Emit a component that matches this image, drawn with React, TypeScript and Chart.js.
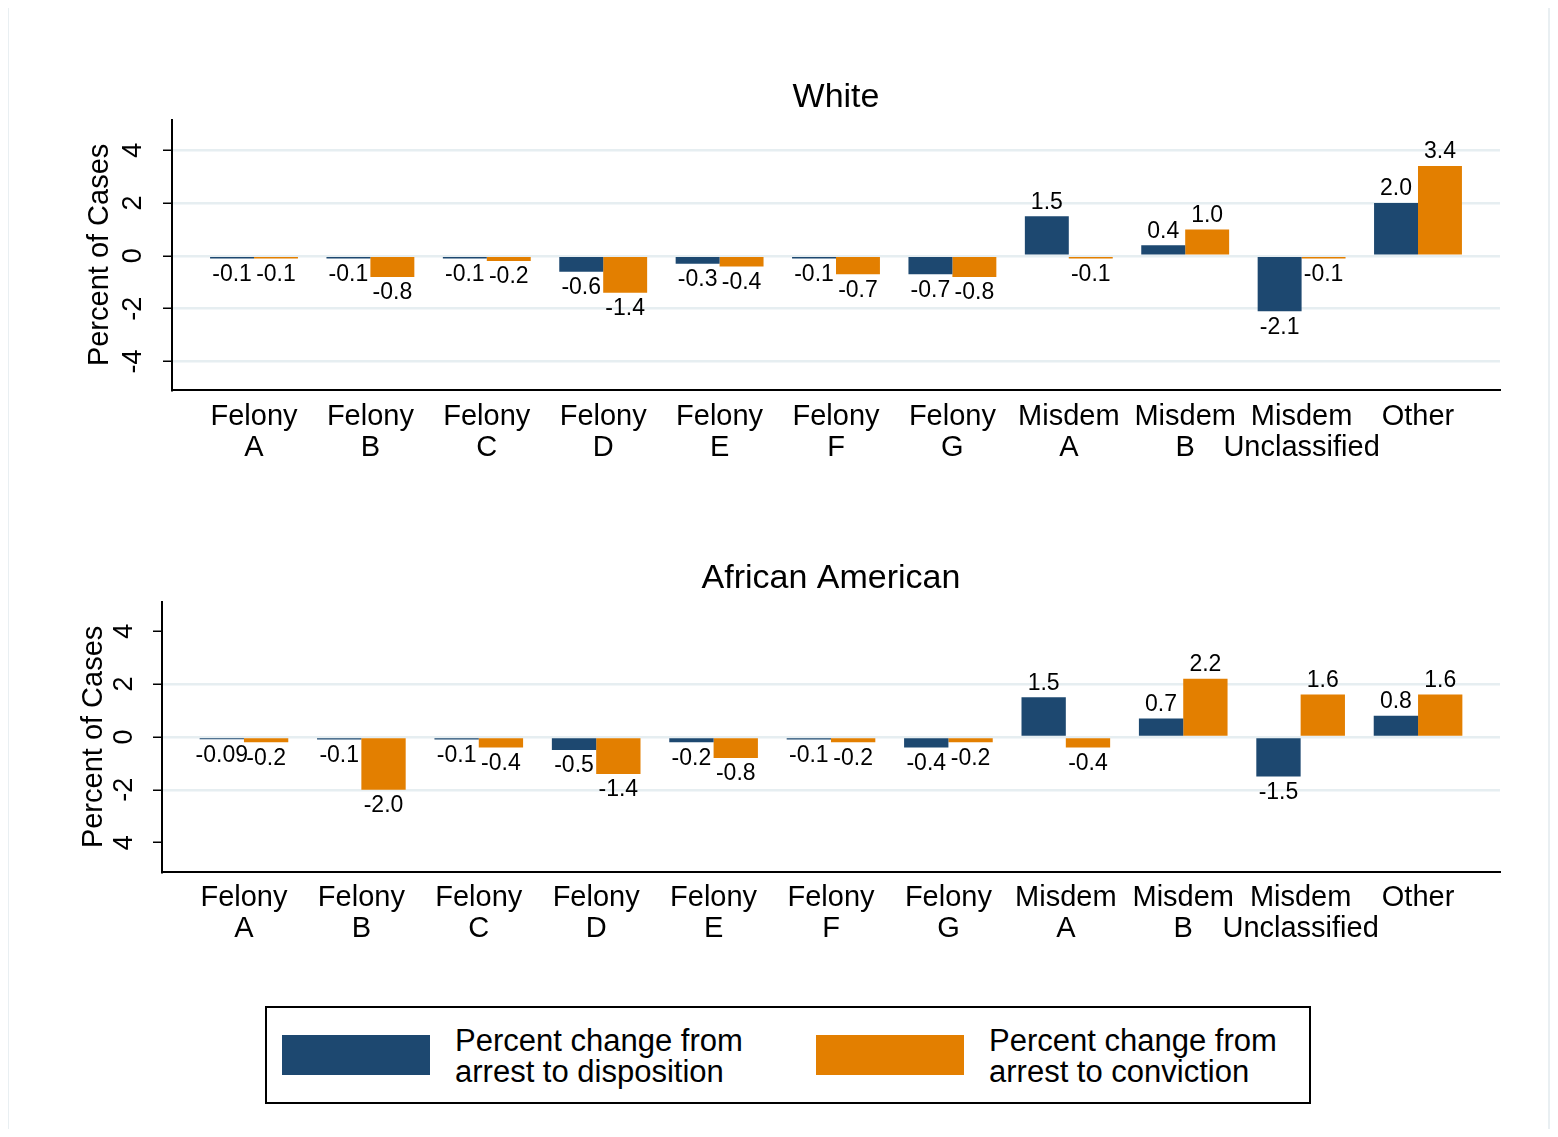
import React, { useEffect, useRef } from 'react';
import { Chart, registerables } from 'chart.js';

Chart.register(...registerables);

const FONT = '"Liberation Sans", Arial, Helvetica, sans-serif';
const BLUE = '#1d4870';
const ORANGE = '#e37f00';
const GRID = '#e6eef1';

const CATEGORIES: string[][] = [
  ['Felony', 'A'], ['Felony', 'B'], ['Felony', 'C'], ['Felony', 'D'], ['Felony', 'E'],
  ['Felony', 'F'], ['Felony', 'G'], ['Misdem', 'A'], ['Misdem', 'B'], ['Misdem', 'Unclassified'], ['Other'],
];

const WHITE_DISPOSITION = [-0.1, -0.1, -0.1, -0.6, -0.3, -0.1, -0.7, 1.5, 0.4, -2.1, 2.0];
const WHITE_CONVICTION = [-0.1, -0.8, -0.2, -1.4, -0.4, -0.7, -0.8, -0.1, 1.0, -0.1, 3.4];

const AA_DISPOSITION = [-0.09, -0.1, -0.1, -0.5, -0.2, -0.1, -0.4, 1.5, 0.7, -1.5, 0.8];
const AA_CONVICTION = [-0.2, -2.0, -0.4, -1.4, -0.8, -0.2, -0.2, -0.4, 2.2, 1.6, 1.6];

const Y_TICKS = [-4, -2, 0, 2, 4];
const WHITE_Y_TICK_LABELS = ['-4', '-2', '0', '2', '4'];
const AA_Y_TICK_LABELS = ['4', '-2', '0', '2', '4'];

const SERIES_LABELS = ['Percent change from arrest to disposition', 'Percent change from arrest to conviction'];

const fmt = (v: number) => (Math.abs(v) < 0.1 ? v.toFixed(2) : v.toFixed(1));

const valueLabels = {
  id: 'valueLabels',
  afterDatasetsDraw(chart: any) {
    const ctx = chart.ctx;
    ctx.save();
    ctx.font = `23px ${FONT}`;
    ctx.fillStyle = '#000';
    ctx.textAlign = 'center';
    ctx.textBaseline = 'middle';
    chart.data.datasets.forEach((ds: any, di: number) => {
      const meta = chart.getDatasetMeta(di);
      meta.data.forEach((bar: any, i: number) => {
        const v = ds.data[i].y;
        const y = v < 0 ? bar.y + 16 : bar.y - 14;
        ctx.fillText(fmt(v), bar.x, y);
      });
    });
    ctx.restore();
  },
};

type PanelProps = {
  title: string;
  disp: number[];
  conv: number[];
  yLabels: string[];
  yMin: number;
  yMax: number;
  xMin: number;
  xMax: number;
  yAxisWidth: number;
  xAxisHeight: number;
  titlePadTop: number;
  titlePadBottom: number;
  yTitlePad: number;
  yTickPad: number;
  xTickPad: number;
  hideOuterGrid: boolean;
  top: number;
};

function Panel(p: PanelProps) {
  const ref = useRef<HTMLCanvasElement>(null);
  useEffect(() => {
    if (!ref.current) return;
    const chart = new Chart(ref.current, {
      type: 'bar',
      data: {
        datasets: [
          {
            label: SERIES_LABELS[0],
            data: p.disp.map((v, i) => ({ x: i, y: v })),
            backgroundColor: BLUE,
            borderWidth: 0,
            barPercentage: 1,
            categoryPercentage: 0.755,
          },
          {
            label: SERIES_LABELS[1],
            data: p.conv.map((v, i) => ({ x: i, y: v })),
            backgroundColor: ORANGE,
            borderWidth: 0,
            barPercentage: 1,
            categoryPercentage: 0.755,
          },
        ],
      } as any,
      options: {
        animation: false,
        responsive: false,
        maintainAspectRatio: false,
        layout: { padding: { left: 0, right: 49, top: 0, bottom: 0 } },
        plugins: {
          legend: { display: false },
          tooltip: { enabled: false },
          title: {
            display: true,
            text: p.title,
            fullSize: false,
            color: '#000',
            font: { family: FONT, size: 34, weight: 'normal', lineHeight: 1.2 },
            padding: { top: p.titlePadTop, bottom: p.titlePadBottom },
          },
        },
        scales: {
          x: {
            type: 'linear',
            offset: false,
            min: p.xMin,
            max: p.xMax,
            afterBuildTicks: (s: any) => {
              s.ticks = CATEGORIES.map((_, i) => ({ value: i }));
            },
            afterFit: (s: any) => {
              s.height = p.xAxisHeight;
            },
            ticks: {
              autoSkip: false,
              maxRotation: 0,
              minRotation: 0,
              padding: p.xTickPad,
              color: '#000',
              font: { family: FONT, size: 29, lineHeight: 1.07 },
              callback: (v: any) => CATEGORIES[Math.round(Number(v))] ?? '',
            },
            grid: { display: false, drawTicks: false, offset: false },
            border: { display: true, color: '#000', width: 2 },
          },
          y: {
            min: p.yMin,
            max: p.yMax,
            afterBuildTicks: (s: any) => {
              s.ticks = Y_TICKS.map((v) => ({ value: v }));
            },
            afterFit: (s: any) => {
              s.width = p.yAxisWidth;
            },
            ticks: {
              minRotation: 90,
              maxRotation: 90,
              crossAlign: 'center',
              padding: p.yTickPad,
              color: '#000',
              font: { family: FONT, size: 27 },
              callback: (v: any) => p.yLabels[Y_TICKS.indexOf(Number(v))] ?? '',
            },
            grid: {
              color: (c: any) =>
                p.hideOuterGrid && c.tick && Math.abs(c.tick.value) === 4 ? 'rgba(0,0,0,0)' : GRID,
              lineWidth: 2.5,
              tickColor: '#000',
              tickLength: 9,
              tickWidth: 1.5,
            },
            border: { display: true, color: '#000', width: 2 },
            title: {
              display: true,
              text: 'Percent of Cases',
              color: '#000',
              font: { family: FONT, size: 29 },
              padding: { top: p.yTitlePad, bottom: 0 },
            },
          },
        },
      } as any,
      plugins: [valueLabels],
    });
    return () => chart.destroy();
  }, []);
  return (
    <canvas
      ref={ref}
      width={1540}
      height={480}
      style={{ position: 'absolute', left: 1, top: p.top, width: 1540, height: 480 }}
    />
  );
}

function LegendItem({ color, left, text }: { color: string; left: number; text: string[] }) {
  return (
    <>
      <div
        style={{
          position: 'absolute',
          left,
          top: 27,
          width: 148,
          height: 40,
          background: color,
        }}
      />
      <div
        style={{
          position: 'absolute',
          left: left + 173,
          top: 17,
          fontFamily: FONT,
          fontSize: 31,
          lineHeight: '31px',
          color: '#000',
          whiteSpace: 'nowrap',
        }}
      >
        {text.map((t, i) => (
          <div key={i}>{t}</div>
        ))}
      </div>
    </>
  );
}

export default function App() {
  return (
    <div style={{ position: 'relative', width: 1542, height: 1121 }}>
      <div
        style={{
          position: 'absolute',
          left: -1,
          top: -2,
          width: 1543,
          height: 1135,
          border: '2px solid #e9eff2',
          boxSizing: 'border-box',
        }}
      />
      <Panel
        title="White"
        disp={WHITE_DISPOSITION}
        conv={WHITE_CONVICTION}
        yLabels={WHITE_Y_TICK_LABELS}
        yMin={-5.08}
        yMax={5.15}
        xMin={-0.7045}
        xMax={10.7045}
        yAxisWidth={163}
        xAxisHeight={99}
        titlePadTop={68}
        titlePadBottom={2}
        yTitlePad={74}
        yTickPad={17}
        xTickPad={11}
        hideOuterGrid={false}
        top={1}
      />
      <Panel
        title="African American"
        disp={AA_DISPOSITION}
        conv={AA_CONVICTION}
        yLabels={AA_Y_TICK_LABELS}
        yMin={-5.11}
        yMax={5.11}
        xMin={-0.698}
        xMax={10.698}
        yAxisWidth={153}
        xAxisHeight={97}
        titlePadTop={69}
        titlePadBottom={3}
        yTitlePad={68}
        yTickPad={16}
        xTickPad={10}
        hideOuterGrid={true}
        top={481}
      />
      <div
        style={{
          position: 'absolute',
          left: 257,
          top: 998,
          width: 1046,
          height: 98,
          border: '2px solid #000',
          boxSizing: 'border-box',
          background: '#fff',
        }}
      >
        <LegendItem color={BLUE} left={15} text={['Percent change from', 'arrest to disposition']} />
        <LegendItem color={ORANGE} left={549} text={['Percent change from', 'arrest to conviction']} />
      </div>
    </div>
  );
}
